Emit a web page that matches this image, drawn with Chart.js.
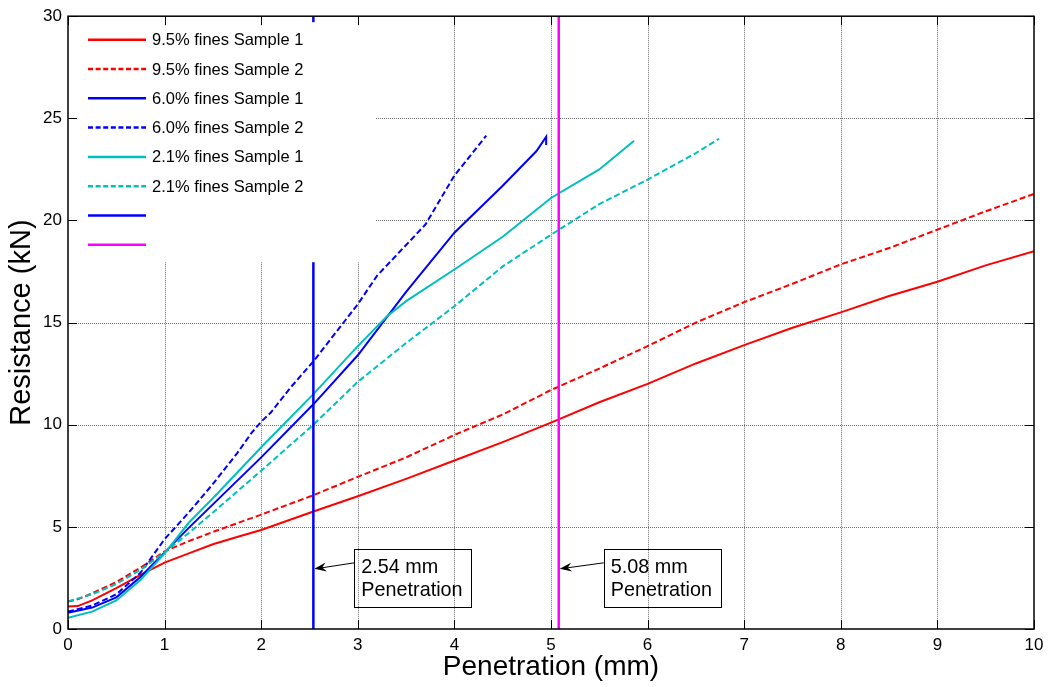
<!DOCTYPE html>
<html>
<head>
<meta charset="utf-8">
<script src="https://cdn.jsdelivr.net/npm/chart.js@4.4.1/dist/chart.umd.min.js"></script>
<style>
html,body{margin:0;padding:0;background:#fff;}
#wrap{width:1050px;height:687px;position:relative;}
</style>
</head>
<body>
<div id="wrap"><canvas id="c" width="1050" height="687"></canvas></div>
<script>
// ---------- DATA ----------
const xTickValues = [0,1,2,3,4,5,6,7,8,9,10];
const yTickValues = [0,5,10,15,20,25,30];
const xTitle = "Penetration (mm)";
const yTitle = "Resistance (kN)";

const labels = [
  "9.5% fines Sample 1",
  "9.5% fines Sample 2",
  "6.0% fines Sample 1",
  "6.0% fines Sample 2",
  "2.1% fines Sample 1",
  "2.1% fines Sample 2",
  "",
  ""
];

// 9.5% fines Sample 1
const f95s1X = [0,0.1,0.25,0.5,0.75,1.0,1.25,1.5,1.75,2.0,2.54,3.0,3.5,4.0,4.5,5.0,5.5,6.0,6.5,7.0,7.5,8.0,8.5,9.0,9.5,10];
const f95s1Y = [1.1,1.12,1.4,2.0,2.65,3.25,3.7,4.15,4.5,4.85,5.75,6.5,7.35,8.25,9.15,10.1,11.1,12.0,13.0,13.9,14.75,15.5,16.3,17.0,17.8,18.5];
// 9.5% fines Sample 2
const f95s2X = [0,0.1,0.25,0.5,0.75,1.0,1.25,1.5,2.0,2.54,3.0,3.5,4.0,4.5,5.0,5.5,6.0,6.5,7.0,7.5,8.0,8.5,9.0,9.5,10];
const f95s2Y = [1.35,1.45,1.75,2.3,3.0,3.8,4.3,4.75,5.6,6.55,7.45,8.4,9.5,10.5,11.7,12.75,13.85,15.0,16.0,16.9,17.85,18.65,19.55,20.45,21.3];
// 6.0% fines Sample 1
const f60s1X = [0,0.25,0.5,0.75,1.0,1.25,1.5,2.0,2.54,3.0,3.5,4.0,4.5,4.85,4.95,4.95];
const f60s1Y = [0.8,1.05,1.55,2.55,3.75,4.95,6.1,8.4,11.0,13.4,16.5,19.4,21.7,23.4,24.1,23.7];
// 6.0% fines Sample 2
const f60s2X = [0,0.25,0.5,0.75,1.0,1.25,1.5,1.75,1.9,2.0,2.1,2.3,2.54,3.0,3.2,3.5,3.7,4.0,4.33];
const f60s2Y = [0.85,1.15,1.7,2.75,4.4,5.7,7.1,8.6,9.6,10.15,10.6,11.8,13.1,15.9,17.3,18.8,19.8,22.2,24.15];
// 2.1% fines Sample 1
const f21s1X = [0,0.25,0.5,0.75,1.0,1.25,1.5,2.0,2.54,3.0,3.3,3.5,4.0,4.5,5.0,5.5,5.86];
const f21s1Y = [0.55,0.85,1.4,2.4,3.7,5.2,6.4,8.9,11.5,13.85,15.3,16.05,17.6,19.2,21.1,22.5,23.9];
// 2.1% fines Sample 2
const f21s2X = [0,0.25,0.5,0.75,1.0,1.25,1.5,2.0,2.54,3.0,3.5,4.0,4.5,5.0,5.5,6.0,6.5,6.74];
const f21s2Y = [1.35,1.7,2.2,2.9,3.75,4.7,5.7,7.75,10.0,12.1,14.0,15.8,17.75,19.3,20.8,22.0,23.3,24.0];
// Reference penetration lines
const penLine1X = [2.54,2.54];
const penLine2X = [5.08,5.08];
const penLineY = [0,30];

// Annotation text
const annoLines = [["2.54 mm","Penetration"],["5.08 mm","Penetration"]];
const annoTarget = [2.54, 5.08];

// ---------- helpers ----------
function pts(xs, ys){ return xs.map((x,i)=>({x:x,y:ys[i]})); }
const FONT = "'Liberation Sans', Arial, Helvetica, sans-serif";

const seriesX = [f95s1X,f95s2X,f60s1X,f60s2X,f21s1X,f21s2X,penLine1X,penLine2X];
const seriesY = [f95s1Y,f95s2Y,f60s1Y,f60s2Y,f21s1Y,f21s2Y,penLineY,penLineY];
const styles = [
  {c:'#ff0000', d:[]},
  {c:'#ff0000', d:[6,3]},
  {c:'#0000ff', d:[]},
  {c:'#0000ff', d:[6,3]},
  {c:'#00bfbf', d:[]},
  {c:'#00bfbf', d:[6,3]},
  {c:'#0000ff', d:[], w:2.5},
  {c:'#ff00ff', d:[], w:2.5}
];
const n = labels.length;
const datasets = labels.map((lab,i)=>({
  label: lab,
  data: pts(seriesX[i], seriesY[i]),
  showLine: true,
  borderColor: styles[i].c,
  backgroundColor: styles[i].c,
  borderDash: styles[i].d,
  borderWidth: styles[i].w || 2,
  pointRadius: 0,
  pointHoverRadius: 0,
  tension: 0,
  fill: false,
  order: n - i
}));

// ---------- plugins ----------
const gridPlugin = {
  id: 'matlabGrid',
  beforeDatasetsDraw(chart){
    const {ctx, chartArea:a, scales:{x, y}} = chart;
    ctx.save();
    ctx.strokeStyle = '#707070';
    ctx.lineWidth = 1;
    ctx.setLineDash([1,1]);
    xTickValues.forEach(v=>{
      if (v===x.min || v===x.max) return;
      const px = Math.round(x.getPixelForValue(v)) + 0.5;
      ctx.beginPath(); ctx.moveTo(px, a.top); ctx.lineTo(px, a.bottom); ctx.stroke();
    });
    yTickValues.forEach(v=>{
      if (v===y.min || v===y.max) return;
      const py = Math.round(y.getPixelForValue(v)) + 0.5;
      ctx.beginPath(); ctx.moveTo(a.left, py); ctx.lineTo(a.right, py); ctx.stroke();
    });
    ctx.restore();
  }
};

const legendPlugin = {
  id: 'boxLegend',
  afterDatasetsDraw(chart){
    const {ctx, chartArea:a} = chart;
    ctx.save();
    const bx = a.left + 4, by = a.top + 6, bw = 303, bh = 240;
    ctx.fillStyle = '#ffffff';
    ctx.fillRect(bx, by, bw, bh);
    ctx.font = '16.5px ' + FONT;
    ctx.textBaseline = 'middle';
    ctx.fillStyle = '#000';
    chart.data.datasets.forEach((ds,i)=>{
      const yy = a.top + 23.5 + i*29.3;
      ctx.strokeStyle = ds.borderColor;
      ctx.lineWidth = 2.5;
      ctx.setLineDash(ds.borderDash && ds.borderDash.length ? [5,2.6] : []);
      ctx.beginPath(); ctx.moveTo(a.left + 20, yy); ctx.lineTo(a.left + 78, yy); ctx.stroke();
      if (ds.label) { ctx.fillText(ds.label, a.left + 84, yy + 1); }
    });
    ctx.restore();
  }
};

const annoPlugin = {
  id: 'annotations',
  afterDatasetsDraw(chart){
    const {ctx, scales:{x, y}} = chart;
    ctx.save();
    ctx.font = '19.8px ' + FONT;
    ctx.textBaseline = 'alphabetic';
    annoLines.forEach((lines,i)=>{
      const tx = x.getPixelForValue(annoTarget[i]);
      const boxLeft = tx + 41 + (i===1 ? 4 : 0);
      const boxTop = y.getPixelForValue(3.94);
      const boxBottom = y.getPixelForValue(1.1);
      const w = Math.max(...lines.map(l=>ctx.measureText(l).width)) + 16;
      ctx.strokeStyle = '#000';
      ctx.lineWidth = 1;
      ctx.setLineDash([]);
      ctx.strokeRect(Math.round(boxLeft)+0.5, Math.round(boxTop)+0.5, Math.round(w), Math.round(boxBottom-boxTop));
      ctx.fillStyle = '#000';
      ctx.fillText(lines[0], boxLeft + 7, boxTop + 24.5);
      ctx.fillText(lines[1], boxLeft + 7, boxTop + 47);
      const tailX = boxLeft, tailY = y.getPixelForValue(3.24);
      const tipX = tx + 1, tipY = y.getPixelForValue(2.95);
      ctx.beginPath(); ctx.moveTo(tailX, tailY); ctx.lineTo(tipX + 6, tipY - 0.7); ctx.stroke();
      const ang = Math.atan2(tipY - tailY, tipX - tailX);
      const L = 12, W = 4.5;
      const bxp = tipX - L*Math.cos(ang), byp = tipY - L*Math.sin(ang);
      const nx = -Math.sin(ang), ny = Math.cos(ang);
      const mx = tipX - 8*Math.cos(ang), my = tipY - 8*Math.sin(ang);
      ctx.beginPath();
      ctx.moveTo(tipX, tipY);
      ctx.lineTo(bxp + nx*W, byp + ny*W);
      ctx.lineTo(mx, my);
      ctx.lineTo(bxp - nx*W, byp - ny*W);
      ctx.closePath();
      ctx.fill();
    });
    ctx.restore();
  }
};

const framePlugin = {
  id: 'frame',
  afterDraw(chart){
    const {ctx, chartArea:a, scales:{x, y}} = chart;
    ctx.save();
    ctx.strokeStyle = '#000';
    ctx.lineWidth = 1;
    ctx.setLineDash([]);
    const T = 9;
    xTickValues.forEach(v=>{
      const px = Math.round(x.getPixelForValue(v)) + 0.5;
      ctx.beginPath(); ctx.moveTo(px, a.bottom); ctx.lineTo(px, a.bottom - T); ctx.stroke();
      ctx.beginPath(); ctx.moveTo(px, a.top); ctx.lineTo(px, a.top + T); ctx.stroke();
    });
    yTickValues.forEach(v=>{
      const py = Math.round(y.getPixelForValue(v)) + 0.5;
      ctx.beginPath(); ctx.moveTo(a.left, py); ctx.lineTo(a.left + T, py); ctx.stroke();
      ctx.beginPath(); ctx.moveTo(a.right, py); ctx.lineTo(a.right - T, py); ctx.stroke();
    });
    ctx.lineWidth = 1.5;
    ctx.strokeRect(a.left, a.top, a.right - a.left, a.bottom - a.top);
    ctx.restore();
  }
};

new Chart(document.getElementById('c'), {
  type: 'scatter',
  data: { datasets: datasets },
  options: {
    responsive: false,
    animation: false,
    devicePixelRatio: 1,
    events: [],
    layout: { padding: { left: 0, top: 12, right: 16, bottom: 0 } },
    plugins: { legend: { display: false }, tooltip: { enabled: false } },
    scales: {
      x: {
        type: 'linear', min: 0, max: 10,
        afterFit(s){ s.height = 58; },
        afterBuildTicks(s){ s.ticks = xTickValues.map(v=>({value:v})); },
        ticks: { font: { size: 17, family: FONT }, color: '#000', padding: 6, maxRotation: 0, autoSkip: false },
        grid: { display: false, drawTicks: false },
        border: { display: false },
        title: { display: true, text: xTitle, font: { size: 28, family: FONT }, color: '#000', padding: { top: 0, bottom: 3 } }
      },
      y: {
        type: 'linear', min: 0, max: 30,
        afterFit(s){ s.width = 68; },
        afterBuildTicks(s){ s.ticks = yTickValues.map(v=>({value:v})); },
        ticks: { font: { size: 17, family: FONT }, color: '#000', padding: 6, autoSkip: false },
        grid: { display: false, drawTicks: false },
        border: { display: false },
        title: { display: true, text: yTitle, font: { size: 29, family: FONT }, color: '#000', padding: { top: 5, bottom: 0 } }
      }
    }
  },
  plugins: [gridPlugin, legendPlugin, annoPlugin, framePlugin]
});
</script>
</body>
</html>
